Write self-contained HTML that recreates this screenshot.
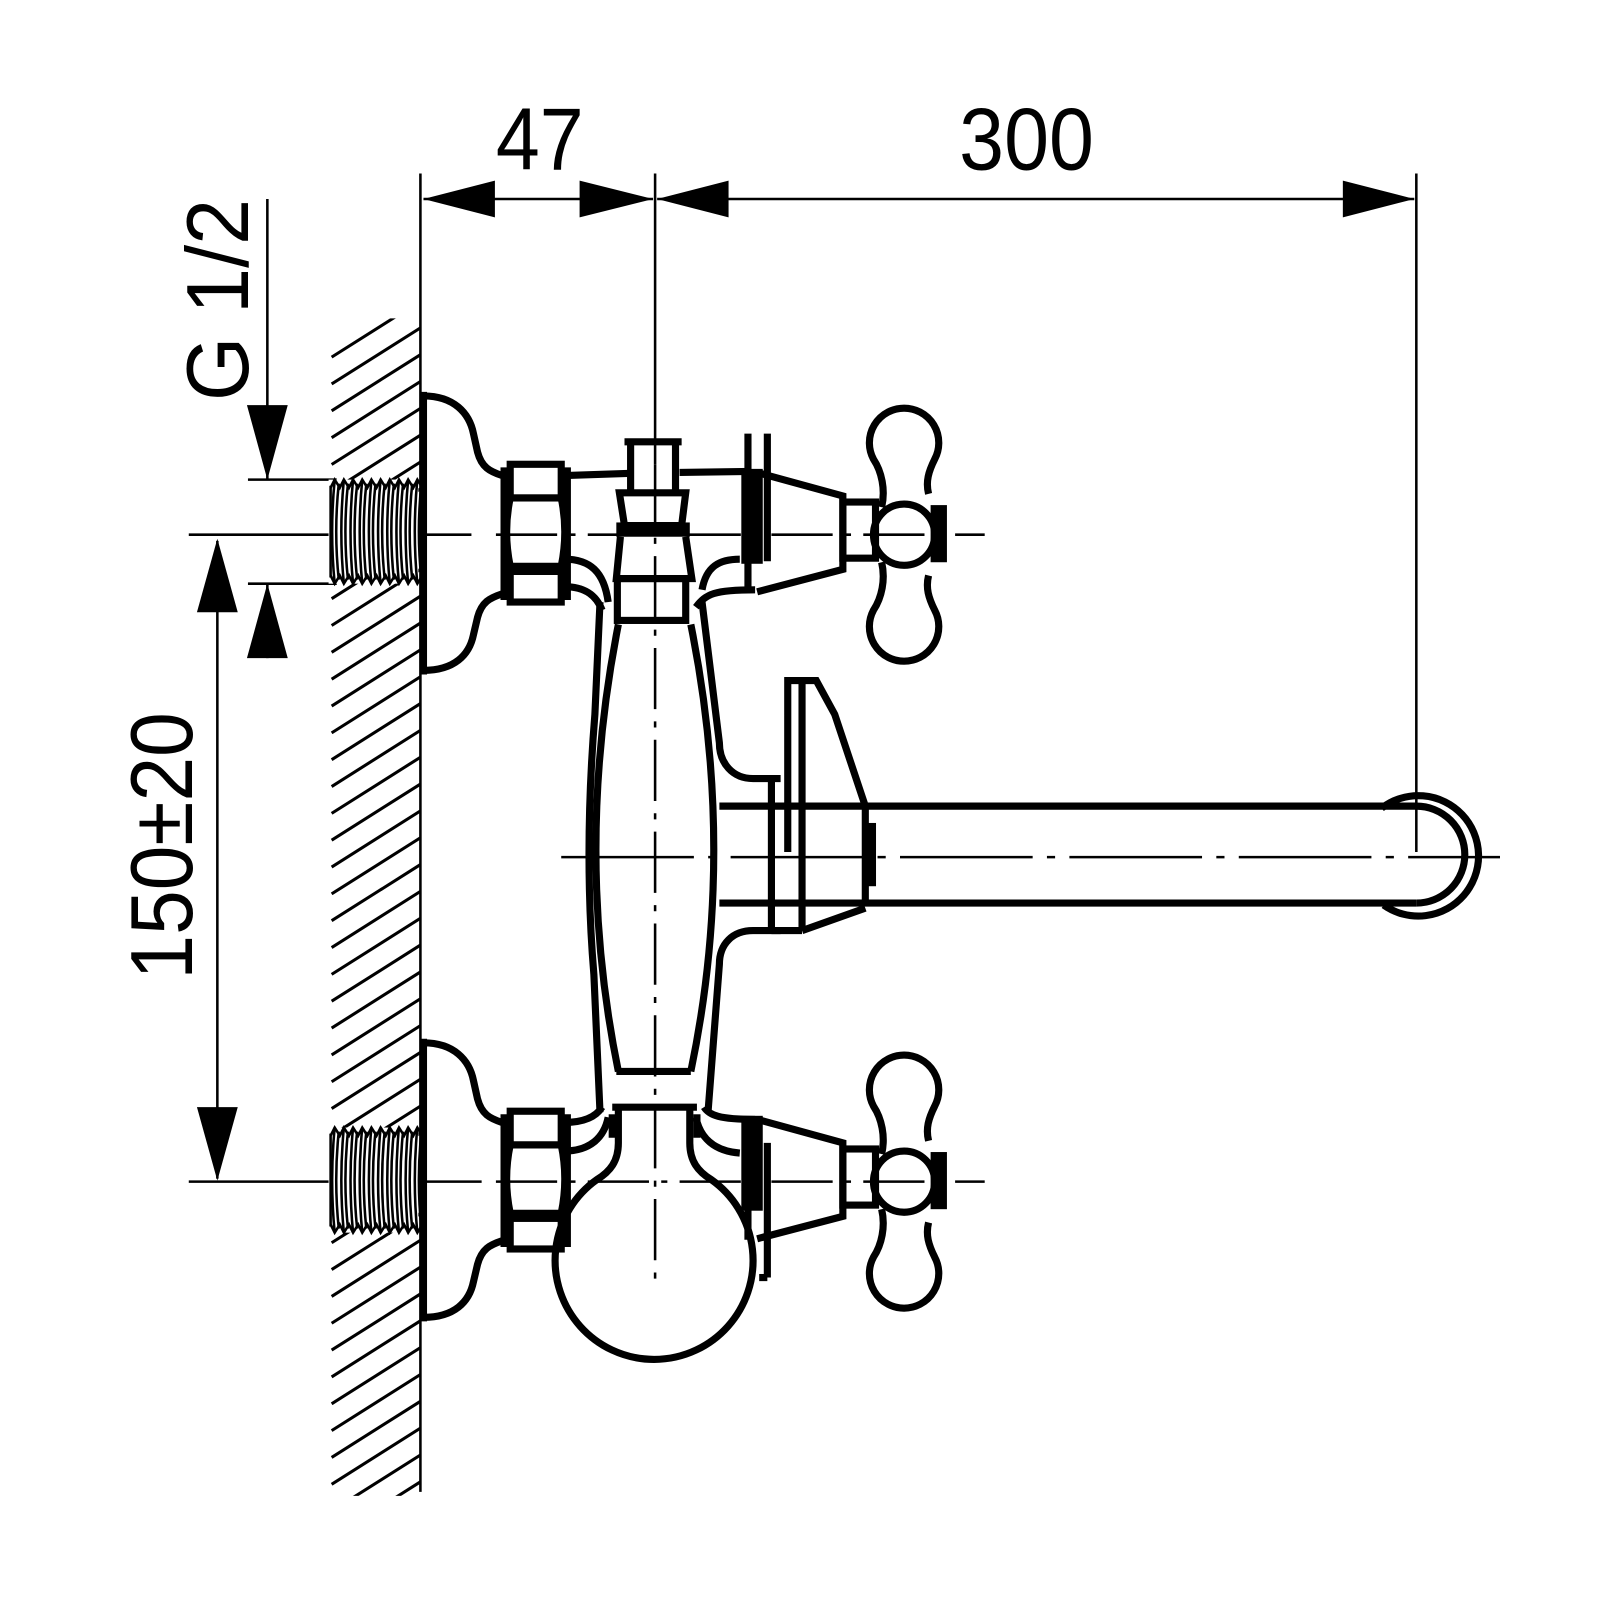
<!DOCTYPE html>
<html><head><meta charset="utf-8"><style>html,body{margin:0;padding:0;background:#fff}svg{display:block}</style></head>
<body>
<svg width="1600" height="1600" viewBox="0 0 1568 1568" xmlns="http://www.w3.org/2000/svg">
<defs>
<clipPath id="hc"><rect x="324" y="312" width="88" height="1154"/></clipPath>
<g id="valve" fill="none" stroke="#000" stroke-width="7">
  <!-- flange -->
  <path d="M415,388 C445,388 460,405 464,425 L468,443 C472,458 480,462 492,466"/>
  <path d="M492,582 C480,586 472,590 468,605 L464,622 C460,642 445,657 415,657"/>
  <line x1="415" y1="384" x2="415" y2="661"/>
  <!-- nut -->
  <rect x="500" y="455" width="50" height="33"/>
  <rect x="500" y="560" width="50" height="30"/>
  <path d="M500,488 Q493,521 500,555 L550,555 Q557,521 550,488 Z"/>
  <line x1="494" y1="458" x2="494" y2="588"/>
  <line x1="556" y1="458" x2="556" y2="588"/>
  <!-- cone -->
  <path d="M742,463 L826,486 L826,558 L742,580"/>
  <rect x="730" y="463" width="14" height="86" fill="#000"/>
  <rect x="826" y="492" width="32" height="55"/>
  <!-- handle -->
  <circle cx="886" cy="524" r="30"/>
  <rect x="914" y="497" width="12" height="52" fill="#000" stroke-width="4"/>
  <path d="M864,497 C868,480 864,462 856,450 A34,34 0 1 1 916,450 C910,462 907,472 910,484"/>
  <path d="M864,551 C868,568 864,586 856,598 A34,34 0 1 0 916,598 C910,586 907,576 910,564"/>
</g>
</defs>
<rect width="1568" height="1568" fill="#fff"/>

<!-- hatching -->
<g clip-path="url(#hc)" stroke="#000" stroke-width="3">
<script></script>
</g>
<g id="hatch" clip-path="url(#hc)" stroke="#000" stroke-width="3"></g>

<!-- thin drawing lines -->
<g stroke="#000" stroke-width="2.5" fill="none">
  <line x1="412" y1="170" x2="412" y2="1462"/>
  <line x1="642" y1="170" x2="642" y2="455"/>
  <line x1="1388" y1="170" x2="1388" y2="835"/>
  <line x1="415" y1="195" x2="640" y2="195"/>
  <line x1="644" y1="195" x2="1386" y2="195"/>
  <line x1="262" y1="195" x2="262" y2="470"/>
  <line x1="243" y1="470" x2="330" y2="470"/>
  <line x1="243" y1="572" x2="330" y2="572"/>
  <line x1="262" y1="572" x2="262" y2="645"/>
  <line x1="213" y1="530" x2="213" y2="1155"/>
  <line x1="185" y1="524" x2="462" y2="524"/>
  <line x1="185" y1="1158" x2="472" y2="1158"/>
  <!-- centerlines dash-dot -->
  <line x1="486" y1="524" x2="965" y2="524" stroke-dasharray="60,12,6,12"/>
  <line x1="486" y1="1158" x2="965" y2="1158" stroke-dasharray="60,12,6,12"/>
  <line x1="642" y1="455" x2="642" y2="1258" stroke-dasharray="60,12,6,12"/>
  <line x1="550" y1="840" x2="1470" y2="840" stroke-dasharray="130,14,8,14"/>
</g>
<!-- arrowheads -->
<g fill="#000">
  <polygon points="415,195 485,177 485,213"/>
  <polygon points="640,195 568,177 568,213"/>
  <polygon points="644,195 714,177 714,213"/>
  <polygon points="1386,195 1316,177 1316,213"/>
  <polygon points="262,470 242,397 282,397"/>
  <polygon points="262,572 242,645 282,645"/>
  <polygon points="213,528 193,600 233,600"/>
  <polygon points="213,1157 193,1085 233,1085"/>
</g>
<!-- text -->
<g font-family="Liberation Sans, sans-serif" font-size="86" fill="#000">
  <text x="486" y="166" textLength="86" lengthAdjust="spacingAndGlyphs">47</text>
  <text x="940" y="166" textLength="132" lengthAdjust="spacingAndGlyphs">300</text>
  <text transform="translate(243,393) rotate(-90)" textLength="198" lengthAdjust="spacingAndGlyphs">G 1/2</text>
  <text transform="translate(188,960) rotate(-90)" textLength="262" lengthAdjust="spacingAndGlyphs">150±20</text>
</g>

<!-- threads -->
<g id="threads" stroke="#000" fill="#fff" stroke-width="2.5"></g>

<!-- valves -->
<use href="#valve"/>
<use href="#valve" transform="translate(0,634)"/>

<g fill="none" stroke="#000" stroke-width="7">
  <!-- top pipe -->
  <line x1="553" y1="466" x2="615" y2="464"/>
  <line x1="666" y1="463" x2="735" y2="462"/>
  <!-- top cap/stem -->
  <line x1="612" y1="433" x2="668" y2="433"/>
  <line x1="618" y1="434" x2="618" y2="480"/>
  <line x1="662" y1="434" x2="662" y2="480"/>
  <path d="M607,483 L672,483 L668,515 L612,515 Z"/>
  <rect x="604" y="512" width="72" height="14" fill="#000" stroke="none"/>
  <path d="M608,526 L604,567 L678,567 L672,526"/>
  <rect x="605" y="567" width="67" height="41"/>
  <!-- top elbows -->
  <path d="M553,548 C578,548 592,560 596,590"/>
  <path d="M553,575 C575,575 585,585 590,598"/>
  <path d="M725,548 C705,548 692,555 688,578"/>
  <path d="M740,578 C700,578 692,582 682,595"/>
  <line x1="733" y1="425" x2="733" y2="580"/>
  <line x1="752" y1="425" x2="752" y2="550"/>
  <!-- body -->
  <path d="M588,590 L583,700 Q572,835 582,955 L588,1090"/>
  <path d="M606,612 Q562,835 606,1050"/>
  <path d="M677,612 Q722,835 677,1050"/>
  <path d="M688,590 L705,728 C705,748 718,763 738,763 L765,763"/>
  <path d="M765,912 L738,912 C718,912 705,925 705,945 L694,1088"/>
  <!-- bottom bands -->
  <line x1="604" y1="1050" x2="677" y2="1050"/>
  <line x1="600" y1="1085" x2="683" y2="1085"/>
  <path d="M606,1088 L606,1120 C606,1138 598,1148 585,1156 A97,97 0 1 0 697,1156 C684,1148 676,1138 676,1120 L676,1088"/>
  <line x1="600" y1="1092" x2="600" y2="1115"/>
  <line x1="683" y1="1092" x2="683" y2="1115"/>
  <!-- bottom elbows -->
  <path d="M553,1100 C575,1100 585,1093 590,1085"/>
  <path d="M553,1128 C578,1128 592,1115 596,1095"/>
  <path d="M690,1085 C695,1093 705,1097 740,1097"/>
  <path d="M682,1095 C686,1115 700,1128 725,1130"/>
  <line x1="733" y1="1097" x2="733" y2="1215"/>
  <line x1="752" y1="1120" x2="752" y2="1252"/>
  <line x1="744" y1="1252" x2="752" y2="1252"/>
  <!-- spout -->
  <line x1="705" y1="790" x2="1388" y2="790"/>
  <line x1="705" y1="885" x2="1388" y2="885"/>
  <path d="M1388,790 A47.5,47.5 0 0 1 1388,885"/>
  <path d="M1354,792 A59,59 0 1 1 1356,887"/>
  <line x1="848" y1="790" x2="848" y2="885"/>
  <rect x="849" y="810" width="6" height="55" fill="#000"/>
  <!-- diverter -->
  <line x1="756" y1="763" x2="756" y2="912"/>
  <line x1="786" y1="667" x2="786" y2="912"/>
  <path d="M772,835 L772,667 L800,667 L818,700 L848,790"/>
  <line x1="786" y1="912" x2="848" y2="890"/>
  <line x1="756" y1="912" x2="786" y2="912"/>
</g>

<script>
(function(){
  var ns="http://www.w3.org/2000/svg";
  var h=document.getElementById("hatch");
  for(var y=350;y<=1560;y+=26.3){
    var l=document.createElementNS(ns,"line");
    l.setAttribute("x1",325);l.setAttribute("y1",y);
    l.setAttribute("x2",412);l.setAttribute("y2",y-55);
    h.appendChild(l);
  }
  var t=document.getElementById("threads");
  [[470,572],[1105,1208]].forEach(function(r){
    var y0=r[0],y1=r[1];
    var bg=document.createElementNS(ns,"rect");
    bg.setAttribute("x",322);bg.setAttribute("y",y0);bg.setAttribute("width",88);bg.setAttribute("height",y1-y0);
    bg.setAttribute("stroke","none");t.appendChild(bg);
    var p="M324,"+(y0+8);
    for(var i=0;i<10;i++){var x=324+i*9;p+=" L"+(x+4)+","+y0+" L"+(x+9)+","+(y0+8);}
    var q="M324,"+(y1-8);
    for(var i=0;i<10;i++){var x=324+i*9;q+=" L"+(x+4)+","+y1+" L"+(x+9)+","+(y1-8);}
    [p,q].forEach(function(d){var e=document.createElementNS(ns,"path");e.setAttribute("d",d);e.setAttribute("fill","none");t.appendChild(e);});
    for(var i=0;i<10;i++){
      var x=326+i*9;
      var e=document.createElementNS(ns,"path");
      e.setAttribute("d","M"+(x+2)+","+y0+" Q"+(x-3)+","+((y0+y1)/2)+" "+(x+2)+","+y1);
      e.setAttribute("fill","none");t.appendChild(e);
      var e2=document.createElementNS(ns,"path");
      e2.setAttribute("d","M"+(x+6)+","+(y0+4)+" Q"+(x+1)+","+((y0+y1)/2)+" "+(x+6)+","+(y1-4));
      e2.setAttribute("fill","none");t.appendChild(e2);
    }
    var v=document.createElementNS(ns,"line");
    v.setAttribute("x1",324);v.setAttribute("y1",y0+6);v.setAttribute("x2",324);v.setAttribute("y2",y1-6);t.appendChild(v);
  });
})();
</script>
</svg>
</body></html>
